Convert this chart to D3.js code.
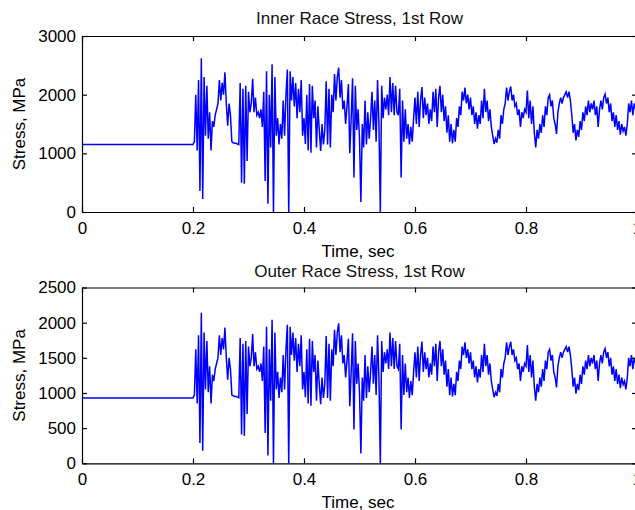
<!DOCTYPE html>
<html>
<head>
<meta charset="utf-8">
<script src="https://cdn.jsdelivr.net/npm/d3@7"></script>
<style>
body { margin: 0; background: #fff; }
svg { display: block; font-family: "Liberation Sans", Arial, Helvetica, sans-serif; }
</style>
</head>
<body>
<div id="chart"></div>
<script>
// time axis: one point at t=0, then samples every 2.5 ms from 0.2 s to 1.0 s
const sampleStart = 0.2;
const sampleStep = 0.0025;

const innerStress = [1150,
  1150,1200,2000,1050,2250,360,2620,220,2300,1300,2150,1250,1700,1050,1550,1450,1650,1750,1850,2250,
  1900,2200,2000,2380,1850,1470,1850,1650,1200,1180,1170,1170,1160,1150,2200,500,2100,480,2150,870,
  2050,1700,1850,2270,1700,1950,1650,1700,1600,1750,1450,2050,530,2400,140,2000,1100,2520,0,2300,
  1300,1600,1150,1500,1250,1900,1300,2000,2430,0,2400,1900,2300,1800,2200,1600,2100,1700,2250,1300,
  1600,1160,2000,1050,2180,1010,2150,1600,1900,1100,1800,1400,1040,1500,1150,1400,2230,1150,2100,1100,
  2000,1700,2350,1900,2300,2460,1950,2250,1750,1900,1500,1800,2180,1000,1600,2280,590,2150,1400,1750,
  1250,170,1500,1100,1900,1150,1700,1250,1600,2050,1400,1900,1200,2250,1500,0,2150,1600,1950,1750,
  2000,1650,2300,1700,2200,1650,2150,1700,1650,2100,590,1900,1200,1750,1250,1500,1150,1450,1200,1600,
  1950,1500,2050,1450,1900,2130,1600,1950,1650,1850,1500,1750,1550,2050,1700,2100,1450,1950,2150,1700,
  2000,1550,1800,1350,1650,1200,1500,1170,1400,1200,1600,1450,1800,1650,2050,1900,2120,1850,2000,1750,
  1950,1650,1800,1500,1700,1420,1650,1500,1900,1600,2100,1700,1900,1550,1750,1450,1300,1160,1250,1180,
  1400,1250,1650,1500,1750,1850,2120,1900,2050,2140,1900,2000,1800,1850,1650,1750,1450,1700,1600,1750,
  1700,2070,1600,1900,1500,1800,1350,1100,1400,1250,1500,1350,1650,1450,1800,1650,1950,2000,1800,1900,
  1600,1500,1330,1700,1850,1950,1850,1950,2000,2050,1950,2050,1900,1650,1350,1500,1220,1400,1280,1550,
  1400,1700,1550,1800,1650,1900,1700,1850,1750,1900,1650,1800,1450,1750,1900,1750,1950,2010,1850,1950,
  1700,1850,1550,1700,1450,1650,1400,1550,1320,1500,1380,1450,1300,1500,1850,1700,1900,1650,1850,1750,
  1800];

const outerStress = [930,
  930,970,1620,850,1820,290,2140,180,1860,1050,1740,1010,1380,850,1260,1170,1340,1420,1500,1820,
  1540,1780,1620,1930,1500,1190,1500,1340,970,960,950,950,940,930,1780,410,1700,390,1740,700,
  1660,1380,1500,1840,1380,1580,1340,1380,1300,1420,1170,1660,430,1940,110,1620,890,2040,0,1860,
  1050,1300,930,1220,1010,1540,1050,1620,1970,0,1940,1540,1860,1460,1780,1300,1700,1380,1820,1050,
  1300,940,1620,850,1770,820,1740,1300,1540,890,1460,1130,840,1220,930,1130,1810,930,1700,890,
  1620,1380,1900,1540,1860,1990,1580,1820,1420,1540,1220,1460,1770,810,1300,1850,480,1740,1130,1420,
  1010,140,1220,890,1540,930,1380,1010,1300,1660,1130,1540,970,1820,1220,0,1740,1300,1580,1420,
  1620,1340,1860,1380,1780,1340,1740,1380,1340,1700,480,1540,970,1420,1010,1220,930,1170,970,1300,
  1580,1220,1660,1170,1540,1730,1300,1580,1340,1500,1220,1420,1260,1660,1380,1700,1170,1580,1740,1380,
  1620,1260,1460,1090,1340,970,1220,950,1130,970,1300,1170,1460,1340,1660,1540,1720,1500,1620,1420,
  1580,1340,1460,1220,1380,1150,1340,1220,1540,1300,1700,1380,1540,1260,1420,1170,1050,940,1010,960,
  1130,1010,1340,1220,1420,1500,1720,1540,1660,1730,1540,1620,1460,1500,1340,1420,1170,1380,1300,1420,
  1380,1680,1300,1540,1220,1460,1090,890,1130,1010,1220,1090,1340,1170,1460,1340,1580,1620,1460,1540,
  1300,1220,1080,1380,1500,1580,1500,1580,1620,1660,1580,1660,1540,1340,1090,1220,990,1130,1040,1260,
  1130,1380,1260,1460,1340,1540,1380,1500,1420,1540,1340,1460,1170,1420,1540,1420,1580,1630,1500,1580,
  1380,1500,1260,1380,1170,1340,1130,1260,1070,1220,1120,1170,1050,1220,1500,1380,1540,1340,1500,1420,
  1460];

const xTicks = [0, 0.2, 0.4, 0.6, 0.8, 1];
const innerTicks = [0, 1000, 2000, 3000];
const outerTicks = [0, 500, 1000, 1500, 2000, 2500];

const times = [0].concat(d3.range(innerStress.length - 1).map(i => sampleStart + i * sampleStep));

const width = 635;
const height = 510;
const left = 82;
const right = 637;
const fontSize = 17;

const svg = d3.select("#chart")
    .append("svg")
    .attr("width", width)
    .attr("height", height);

function drawPanel(cfg) {
    const x = d3.scaleLinear().domain([0, 1]).range([left, right]);
    const y = d3.scaleLinear().domain([0, cfg.ticks[cfg.ticks.length - 1]]).range([cfg.bottom, cfg.top]);

    const g = svg.append("g");

    // stress trace
    const line = d3.line()
        .x((d, i) => x(times[i]))
        .y(d => y(d));

    g.append("path")
        .datum(cfg.values)
        .attr("d", line)
        .attr("fill", "none")
        .attr("stroke", "#0000ff")
        .attr("stroke-width", 1.5);

    // matlab style box with inward ticks on every side
    const axes = [
        { a: d3.axisBottom(x).tickValues(xTicks).tickFormat(d => String(d)).tickPadding(10), t: "translate(0," + cfg.bottom + ")" },
        { a: d3.axisTop(x).tickValues(xTicks).tickFormat(""), t: "translate(0," + cfg.top + ")" },
        { a: d3.axisLeft(y).tickValues(cfg.ticks).tickFormat(d => String(d)).tickPadding(6), t: "translate(" + left + ",0)" },
        { a: d3.axisRight(y).tickValues(cfg.ticks).tickFormat(""), t: "translate(" + right + ",0)" }
    ];

    axes.forEach(function(ax) {
        const ag = g.append("g")
            .attr("transform", ax.t)
            .call(ax.a.tickSizeInner(-5).tickSizeOuter(0));
        ag.attr("font-size", fontSize).attr("font-family", null);
        ag.selectAll("path, line").attr("stroke", "#000").attr("stroke-width", 1.2);
        ag.selectAll("text").attr("fill", "#000");
    });

    g.append("text")
        .attr("x", (left + right) / 2)
        .attr("y", cfg.titleY)
        .attr("text-anchor", "middle")
        .attr("font-size", fontSize)
        .attr("fill", "#111")
        .text(cfg.title);

    g.append("text")
        .attr("x", 358)
        .attr("y", cfg.bottom + 44.5)
        .attr("text-anchor", "middle")
        .attr("font-size", fontSize)
        .attr("fill", "#000")
        .text("Time, sec");

    g.append("text")
        .attr("transform", "translate(25," + (cfg.top + cfg.bottom) / 2 + ") rotate(-90)")
        .attr("text-anchor", "middle")
        .attr("font-size", fontSize)
        .attr("fill", "#000")
        .text("Stress, MPa");
}

drawPanel({
    values: innerStress,
    ticks: innerTicks,
    top: 36,
    bottom: 212,
    titleY: 24,
    title: "Inner Race Stress, 1st Row"
});

drawPanel({
    values: outerStress,
    ticks: outerTicks,
    top: 287.5,
    bottom: 463.3,
    titleY: 277,
    title: "Outer Race Stress, 1st Row"
});
</script>
</body>
</html>
